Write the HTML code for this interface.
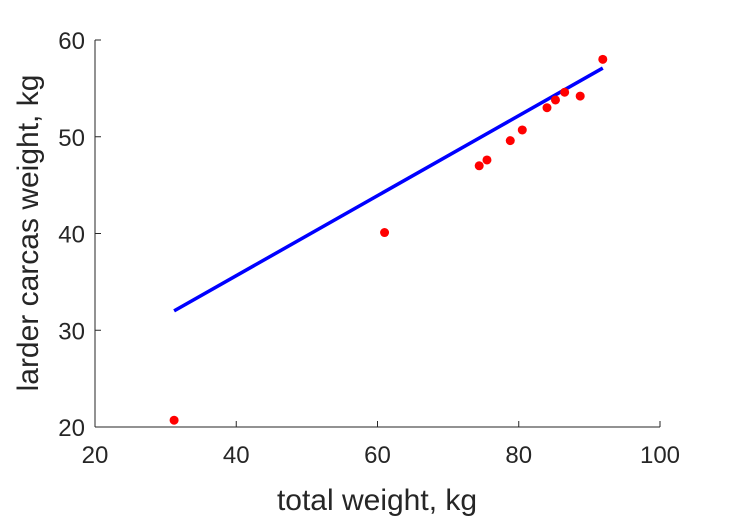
<!DOCTYPE html>
<html><head><meta charset="utf-8"><style>
body{margin:0;background:#fff;}
svg{display:block;font-family:"Liberation Sans",sans-serif;}
</style></head><body>
<svg id="chart" width="729" height="521">
<g id="axes"></g>
<g id="marks"></g>
<text x="377" y="510" text-anchor="middle" font-size="30" fill="#262626">total weight, kg</text>
<text transform="translate(38,233) rotate(-90)" text-anchor="middle" font-size="30" fill="#262626">larder carcas weight, kg</text>
</svg>
<script>
const xTicks=[20,40,60,80,100];
const yTicks=[20,30,40,50,60];
const totalWeight=[31.2,61,74.4,75.5,78.8,80.5,84,85.2,86.5,88.7,91.9];
const carcassWeight=[20.7,40.1,47,47.6,49.6,50.7,53,53.8,54.6,54.2,58];
const fitX=[31.2,91.9];
const fitY=[32,57.1];
const X0=95,X1=660,Y0=427,Y1=40;
const sx=v=>X0+(v-20)/80*(X1-X0);
const sy=v=>Y0-(v-20)/40*(Y0-Y1);
const NS="http://www.w3.org/2000/svg";
const ax=document.getElementById('axes'),mk=document.getElementById('marks');
function el(t,a,p){const e=document.createElementNS(NS,t);for(const k in a)e.setAttribute(k,a[k]);p.appendChild(e);return e;}
let l=el('line',{x1:X0,y1:Y0,x2:X1,y2:Y0,stroke:'#262626','stroke-width':1},ax);


l=el('line',{x1:X0,y1:Y0,x2:X0,y2:Y1,stroke:'#262626','stroke-width':1},ax);


xTicks.forEach(v=>{
 const t=el('line',{x1:sx(v),y1:Y0,x2:sx(v),y2:Y0-6,stroke:'#262626'},ax);
 
 
 const tx=el('text',{x:sx(v),y:Y0+36,'text-anchor':'middle','font-size':24,fill:'#262626'},ax);
 tx.textContent=v;
 
 
});
yTicks.forEach(v=>{
 const t=el('line',{x1:X0,y1:sy(v),x2:X0+6,y2:sy(v),stroke:'#262626'},ax);
 
 
 const tx=el('text',{x:X0-10,y:sy(v)+9,'text-anchor':'end','font-size':24,fill:'#262626'},ax);
 tx.textContent=v;
 
 
});
const fl=el('line',{x1:sx(fitX[0]),y1:sy(fitY[0]),x2:sx(fitX[1]),y2:sy(fitY[1]),stroke:'#0000ff','stroke-width':3.5},mk);


totalWeight.forEach((v,i)=>{
 const c=el('circle',{cx:sx(v),cy:sy(carcassWeight[i]),r:4.5,fill:'#ff0000'},mk);
 
 
});
</script>
</body></html>
